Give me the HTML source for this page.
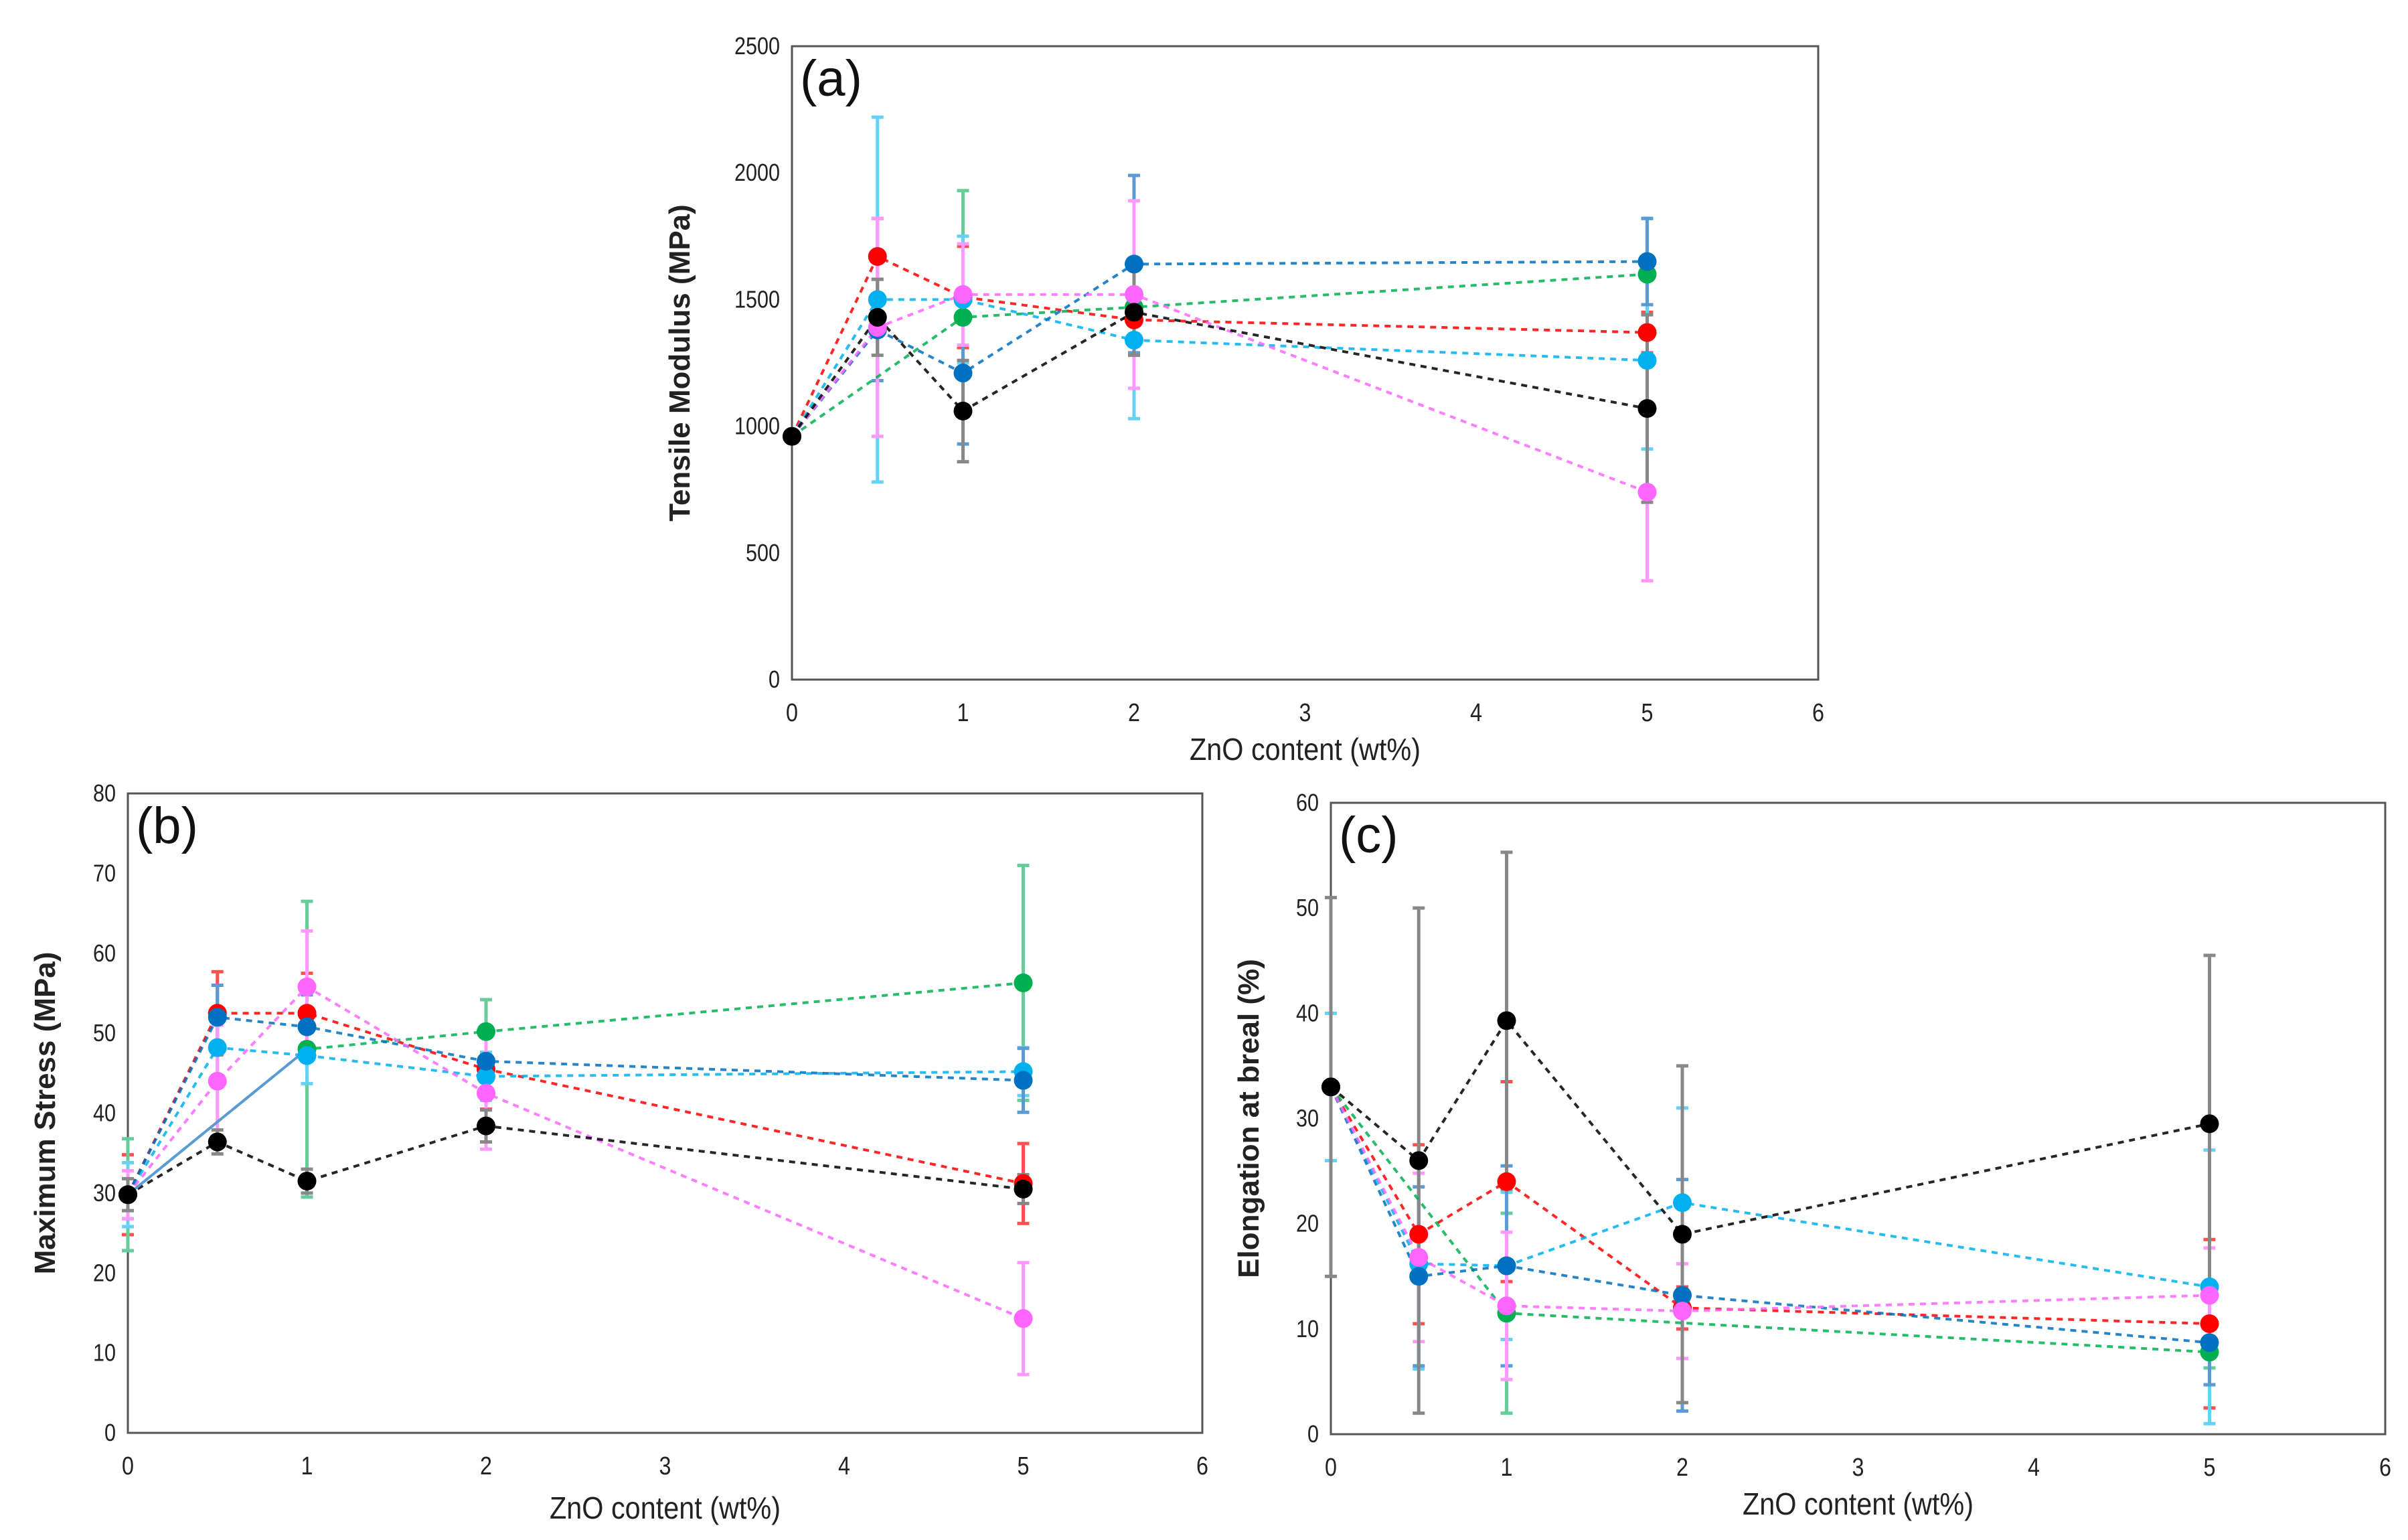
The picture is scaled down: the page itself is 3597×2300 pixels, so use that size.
<!DOCTYPE html>
<html><head><meta charset="utf-8">
<style>
html,body{margin:0;padding:0;background:#fff;}
svg{display:block;font-family:"Liberation Sans",sans-serif;}
</style></head>
<body>
<svg id="fig" width="3597" height="2300" viewBox="0 0 3597 2300" xmlns="http://www.w3.org/2000/svg"></svg>
<script>
const xValues = [0, 0.5, 1, 2, 5];
const xTicks = [0, 1, 2, 3, 4, 5, 6];
const seriesNames = ["red", "green", "cyan", "blue", "magenta", "black"];
const seriesColors = ["#ff0000", "#00b050", "#00b0f0", "#0070c0", "#ff66ff", "#000000"];
const errColors = ["#ff5050", "#66cc99", "#66d0f5", "#5b9bd5", "#ff99ff", "#888888"];

// Panel (a) Tensile modulus
const aTicks = [0, 500, 1000, 1500, 2000, 2500];
const aRed = [960, 1670, 1510, 1420, 1370];
const aGreen = [960, null, 1430, 1470, 1600];
const aCyan = [960, 1500, 1500, 1340, 1260];
const aBlue = [960, 1380, 1210, 1640, 1650];
const aMagenta = [960, 1390, 1520, 1520, 740];
const aBlack = [960, 1430, 1060, 1450, 1070];
const aRedErr = [0, 150, 200, 100, 80];
const aGreenErr = [0, 0, 500, 150, 220];
const aCyanErr = [0, 720, 250, 310, 350];
const aBlueErr = [0, 200, 280, 350, 170];
const aMagentaErr = [0, 430, 200, 370, 350];
const aBlackErr = [0, 150, 200, 170, 370];

// Panel (b) Maximum stress
const bTicks = [0, 10, 20, 30, 40, 50, 60, 70, 80];
const bRed = [29.8, 52.5, 52.5, 45.5, 31.2];
const bGreen = [29.8, null, 48, 50.2, 56.3];
const bCyan = [29.8, 48.2, 47.2, 44.6, 45.2];
const bBlue = [29.8, 52, 50.8, 46.5, 44.1];
const bMagenta = [29.8, 44, 55.8, 42.5, 14.3];
const bBlack = [29.8, 36.4, 31.5, 38.4, 30.5];
const bRedErr = [5, 5.2, 5, 5, 5];
const bGreenErr = [7, 0, 18.5, 4, 14.7];
const bCyanErr = [4, 4, 3.5, 3, 3];
const bBlueErr = [3, 4, 4, 4, 4];
const bMagentaErr = [3, 7, 7, 7, 7];
const bBlackErr = [2, 1.5, 1.5, 2, 1.8];

// Panel (c) Elongation at break
const cTicks = [0, 10, 20, 30, 40, 50, 60];
const cRed = [33, 19, 24, 12, 10.5];
const cGreen = [33, null, 11.5, null, 7.8];
const cCyan = [33, 16.2, 16, 22, 14];
const cBlue = [33, 15, 16, 13.2, 8.7];
const cMagenta = [33, 16.8, 12.2, 11.7, 13.2];
const cBlack = [33, 26, 39.3, 19, 29.5];
const cRedErr = [0, 8.5, 9.5, 2, 8];
const cGreenErr = [0, 0, 9.5, 0, 1.5];
const cCyanErr = [7, 10, 7, 9, 13];
const cBlueErr = [0, 8.5, 9.5, 11, 4];
const cMagentaErr = [0, 8, 7, 4.5, 4.5];
const cBlackErr = [18, 24, 16, 16, 16];

const NS = "http://www.w3.org/2000/svg";
const svg = document.getElementById("fig");
function mk(tag, attrs, parent) {
  const e = document.createElementNS(NS, tag);
  for (const k in attrs) e.setAttribute(k, attrs[k]);
  (parent || svg).appendChild(e);
  return e;
}

function panel(cfg) {
  const g = mk("g", {});
  
  
  const L = cfg.left, R = cfg.right, T = cfg.top, B = cfg.bottom;
  const yMax = cfg.yTicks[cfg.yTicks.length - 1];
  const sx = v => L + (v / 6) * (R - L);
  const sy = v => B - (v / yMax) * (B - T);
  const frame = mk("rect", {x: L, y: T, width: R - L, height: B - T, fill: "none", stroke: "#555", "stroke-width": 3}, g);
  
  
  cfg.yTicks.forEach(t => {
    const ax = L - 18, ay = sy(t) + 12;
    const tx = mk("text", {x: 0, y: 0, "text-anchor": "end", "font-size": 36, fill: "#222", transform: `translate(${ax},${ay}) scale(0.85,1)`}, g);
    tx.textContent = t;
    
    
  });
  xTicks.forEach(t => {
    const tx = mk("text", {x: 0, y: 0, "text-anchor": "middle", "font-size": 38, fill: "#222", transform: `translate(${sx(t)},${B + 62}) scale(0.85,1)`}, g);
    tx.textContent = t;
    
    
  });
  const xt = mk("text", {x: 0, y: 0, "text-anchor": "middle", "font-size": 46, fill: "#222", transform: `translate(${(L + R) / 2},${cfg.xTitleY}) scale(0.9,1)`}, g);
  xt.textContent = "ZnO content (wt%)";
  
  
  const cy = (T + B) / 2;
  const yt = mk("text", {x: cfg.yTitleX, y: cy, "text-anchor": "middle", "font-size": 44, fill: "#222", "font-weight": "bold", transform: `rotate(-90 ${cfg.yTitleX} ${cy})`}, g);
  yt.textContent = cfg.yTitle;
  
  
  const lb = mk("text", {x: L + 12, y: T + 74, "font-size": 76, fill: "#111"}, g);
  lb.textContent = cfg.label;
  
  

  cfg.series.forEach((s, si) => {
    s.vals.forEach((v, i) => {
      if (v === null || !s.err[i]) return;
      const x = sx(xValues[i]), y1 = sy(v + s.err[i]), y2 = sy(Math.max(0, v - s.err[i]));
      const eb = mk("path", {d: `M${x},${y1}V${y2}M${x-9},${y1}H${x+9}M${x-9},${y2}H${x+9}`, stroke: errColors[si], "stroke-width": 5, fill: "none"}, g);
      
      
    });
  });
  cfg.series.forEach((s, si) => {
    const pts = [];
    s.vals.forEach((v, i) => { if (v !== null) pts.push(sx(xValues[i]) + "," + sy(v)); });
    const ln = mk("polyline", {points: pts.join(" "), fill: "none", stroke: seriesColors[si], "stroke-width": 4, "stroke-dasharray": "9 8", opacity: 0.85}, g);
    
    
  });
  if (cfg.solid) {
    const s = cfg.solid;
    const sl = mk("line", {x1: sx(s.x1), y1: sy(s.y1), x2: sx(s.x2), y2: sy(s.y2), stroke: "#5b9bd5", "stroke-width": 4}, g);
    
    
  }
  cfg.series.forEach((s, si) => {
    s.vals.forEach((v, i) => {
      if (v === null) return;
      const c = mk("circle", {cx: sx(xValues[i]), cy: sy(v), r: 14, fill: seriesColors[si]}, g);
      
      
    });
  });
}

panel({id: "a", left: 1183, right: 2716, top: 69, bottom: 1015, yTicks: aTicks,
  xTitleY: 1135, yTitleX: 1030, yTitle: "Tensile  Modulus  (MPa)", label: "(a)",
  series: [
    {vals: aRed, err: aRedErr}, {vals: aGreen, err: aGreenErr}, {vals: aCyan, err: aCyanErr},
    {vals: aBlue, err: aBlueErr}, {vals: aMagenta, err: aMagentaErr}, {vals: aBlack, err: aBlackErr}]});
panel({id: "b", left: 191, right: 1796, top: 1185, bottom: 2140, yTicks: bTicks,
  xTitleY: 2268, yTitleX: 82, yTitle: "Maximum  Stress (MPa)", label: "(b)",
  solid: {x1: 0, y1: bRed[0], x2: 1, y2: 48},
  series: [
    {vals: bRed, err: bRedErr}, {vals: bGreen, err: bGreenErr}, {vals: bCyan, err: bCyanErr},
    {vals: bBlue, err: bBlueErr}, {vals: bMagenta, err: bMagentaErr}, {vals: bBlack, err: bBlackErr}]});
panel({id: "c", left: 1988, right: 3563, top: 1199, bottom: 2142, yTicks: cTicks,
  xTitleY: 2262, yTitleX: 1880, yTitle: "Elongation  at breal (%)", label: "(c)",
  series: [
    {vals: cRed, err: cRedErr}, {vals: cGreen, err: cGreenErr}, {vals: cCyan, err: cCyanErr},
    {vals: cBlue, err: cBlueErr}, {vals: cMagenta, err: cMagentaErr}, {vals: cBlack, err: cBlackErr}]});
</script>
</body></html>
